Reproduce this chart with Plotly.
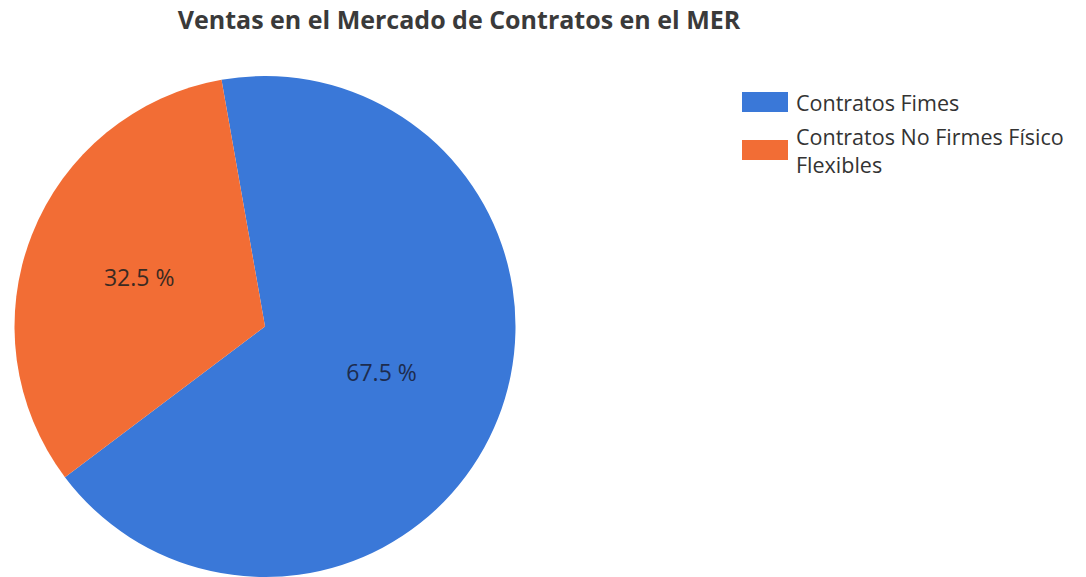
import plotly.graph_objects as go

TITLE = 'Ventas en el Mercado de Contratos en el MER'
LABELS = ['Contratos Fimes', 'Contratos No Firmes Físico<br>Flexibles']
VALUES = [67.5, 32.5]
COLORS = ['#3a78d8', '#f26d35']
TEXT_COLORS = ['#1d2c4e', '#3a2a22']

W, H = 1086, 577

fig = go.Figure(go.Pie(
    labels=LABELS,
    values=VALUES,
    sort=False,
    direction='clockwise',
    rotation=-10,
    marker=dict(colors=COLORS, line=dict(width=0)),
    texttemplate='%{value:.1f} %',
    textposition='inside',
    insidetextorientation='horizontal',
    insidetextfont=dict(family='Open Sans', size=23, color=TEXT_COLORS),
    hoverinfo='label+percent',
    domain=dict(x=[13 / W, 517 / W], y=[0, 1 - 76 / H]),
    showlegend=False,
))

# leyenda dibujada a mano (cuadros anchos como en el original)
legend_y = [102, 150]
for i, lab in enumerate(LABELS):
    y = legend_y[i]
    fig.add_shape(type='rect', xref='paper', yref='paper',
                  x0=742 / W, x1=788 / W, y0=1 - (y - 10) / H, y1=1 - (y + 10) / H,
                  fillcolor=COLORS[i], line=dict(width=0))
    fig.add_annotation(xref='paper', yref='paper', x=794 / W, y=1 - y / H,
                       xanchor='left', yanchor='middle', align='left', showarrow=False,
                       text=lab, font=dict(family='Open Sans', size=21.5, color='#333333'))

fig.update_layout(
    title=dict(text=f'<b>{TITLE}</b>', x=459 / W, xanchor='center', y=1 - 20 / H, yanchor='middle',
               font=dict(family='Open Sans', size=25, color='#3a3a3a')),
    width=W, height=H,
    margin=dict(l=0, r=0, t=0, b=0),
    paper_bgcolor='white', plot_bgcolor='white',
)

# quitar el margen por defecto del <body> para que la figura quede en (0,0)
fig.write_html('out.html', config={'displayModeBar': False},
               post_script="document.body.style.margin='0';")
